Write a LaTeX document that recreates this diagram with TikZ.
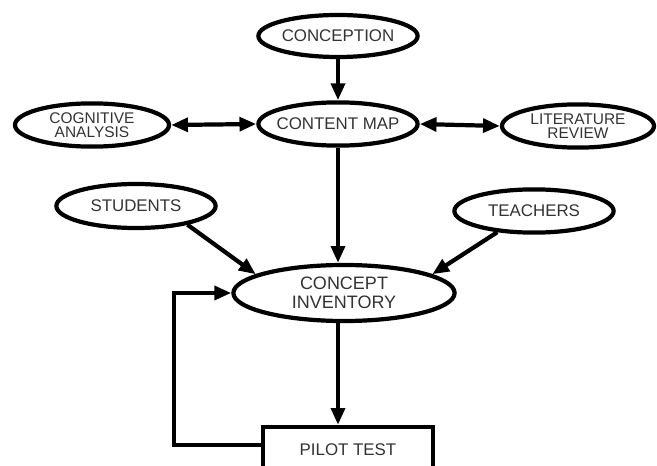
\documentclass[tikz,border=0pt]{standalone}
\usepackage{fontspec}
\setmainfont{Liberation Sans}
\usetikzlibrary{shapes.geometric, arrows.meta}

\begin{document}
\begin{tikzpicture}[
    x=0.025cm, y=-0.025cm,
    bubble/.style={ellipse, draw, line width=3pt, inner xsep=-0.3cm, inner ysep=0pt, minimum width=3.98cm, minimum height=1.05cm, align=center, text=black!80, font=\fontsize{12}{13}\selectfont},
    smallbubble/.style={bubble, minimum width=3.85cm, minimum height=1.08cm, font=\fontsize{11}{9.8}\selectfont},
    testbox/.style={rectangle, draw, line width=3pt, minimum width=4.23cm, minimum height=1.15cm, text=black!80, font=\fontsize{12}{13}\selectfont},
    arr/.style={-{Triangle[length=0.42cm, width=0.34cm]}, line width=3pt},
    dblarr/.style={{Triangle[length=0.42cm, width=0.34cm]}-{Triangle[length=0.42cm, width=0.34cm]}, line width=3pt}
]
\path[use as bounding box, clip] (0,0) rectangle (657,466);

% top row
\node[bubble] (conception) at (338,36) {CONCEPTION};
\node[bubble, minimum height=1.08cm] (contentmap) at (338,124) {CONTENT MAP};
\node[smallbubble] (cognitive) at (92,125) {COGNITIVE\\ANALYSIS};
\node[smallbubble, minimum width=3.8cm] (literature) at (578,126) {LITERATURE\\REVIEW};

% sources
\node[bubble, minimum height=1.1cm] (students) at (136,206) {STUDENTS};
\node[bubble, minimum height=1.08cm] (teachers) at (534,211) {TEACHERS};

% inventory and test
\node[bubble, minimum width=5.53cm, minimum height=1.4cm, font=\fontsize{12.8}{13.5}\selectfont] (inventory) at (344,293) {CONCEPT\\INVENTORY};
\node[testbox] (pilot) at (348,450) {PILOT TEST};

\draw[arr] (conception) -- (contentmap);
\draw[dblarr] (cognitive.east) -- (contentmap.west);
\draw[dblarr] (contentmap.east) -- (literature.west);
\draw[arr] (contentmap) -- (contentmap |- inventory.north);
\draw[arr] (students.-20) -- (inventory.168);
\draw[arr] (teachers.210) -- (inventory.12);
\draw[arr] (inventory.south -| contentmap) -- (pilot.north -| contentmap);
\draw[arr] ([yshift=0.12cm]pilot.west) -- ++(-87,0) |- (inventory.west);

\end{tikzpicture}
\end{document}
